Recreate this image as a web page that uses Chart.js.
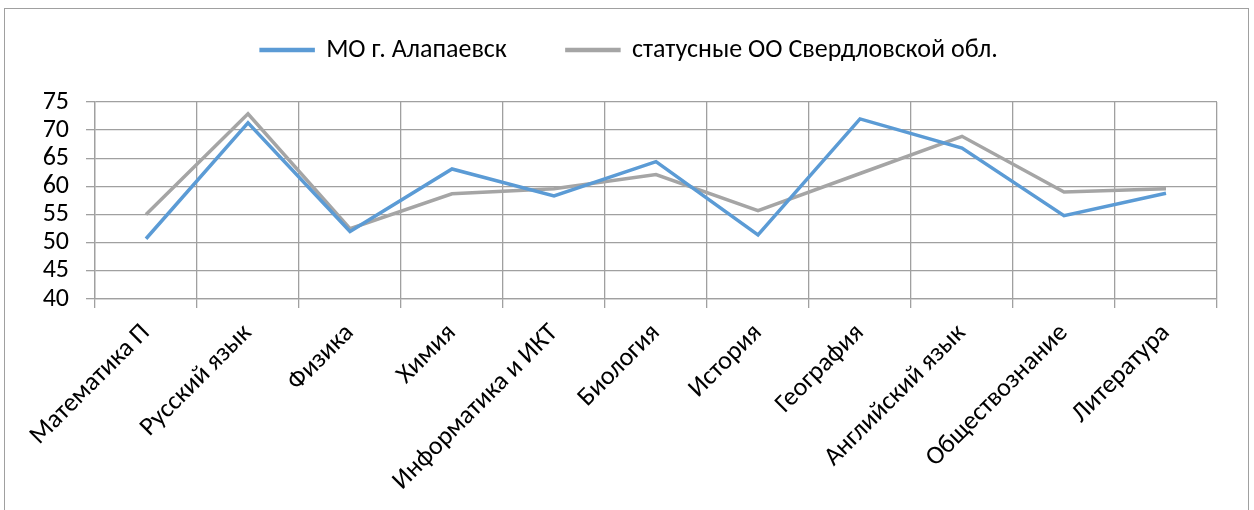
<!DOCTYPE html>
<html>
<head>
<meta charset="utf-8">
<script src="https://cdn.jsdelivr.net/npm/chart.js@4/dist/chart.umd.min.js"></script>
<style>
  body { margin: 0; background: #fff; }
  #box {
    position: absolute; left: 4px; top: 8px;
    width: 1243px; height: 510px;
    border: 1px solid #a0a0a0; border-bottom: none;
  }
</style>
</head>
<body>
<div id="box"><canvas id="myChart"></canvas></div>
<script>
var subjects = ['Математика П', 'Русский язык', 'Физика', 'Химия', 'Информатика и ИКТ', 'Биология',
                'История', 'География', 'Английский язык', 'Обществознание', 'Литература'];
var alapaevsk = [50.7, 71.3, 52.0, 63.1, 58.3, 64.4, 51.4, 72.0, 66.8, 54.8, 58.8];
var regionStatus = [55.0, 72.9, 52.5, 58.7, 59.6, 62.1, 55.7, 62.3, 68.9, 59.0, 59.6];
var yTicks = [40, 45, 50, 55, 60, 65, 70, 75];

var fontFamily = "Carlito, 'Open Sans', sans-serif";
var fontSize = 26;
var gridColor = '#a0a0a0';
var legendGap = 60;

// legend takes fixed height so the plot starts where it does in the picture,
// and its row is moved up so the wide gap between items doesn't push it down
var legendFix = {
    id: 'legendFix',
    afterInit: function(chart) {
        var lg = chart.legend;
        var orig = lg.fit;
        lg.fit = function() {
            orig.call(this);
            this.height = 93;
        };
    },
    afterLayout: function(chart) {
        chart.legend.top = 41 - fontSize / 2 - legendGap;
        chart.legend.left = 6;
        chart.legend.right = chart.width;
    }
};

var ctx = document.getElementById('myChart').getContext('2d');
var chart = new Chart(ctx, {
    type: 'line',
    data: {
        labels: subjects,
        datasets: [{
            label: 'МО г. Алапаевск',
            data: alapaevsk,
            borderColor: '#5b9bd5',
            backgroundColor: '#5b9bd5',
            borderWidth: 3.5,
            pointRadius: 0,
            tension: 0
        }, {
            label: 'статусные ОО Свердловской обл.',
            data: regionStatus,
            borderColor: '#a5a5a5',
            backgroundColor: '#a5a5a5',
            borderWidth: 3.5,
            pointRadius: 0,
            tension: 0
        }]
    },
    options: {
        responsive: true,
        maintainAspectRatio: false,
        animation: false,
        layout: { padding: { top: 0, left: 0, right: 31, bottom: 0 } },
        plugins: {
            legend: {
                position: 'top',
                labels: {
                    boxWidth: 52,
                    boxHeight: 1,
                    padding: legendGap,
                    color: '#000',
                    font: { family: fontFamily, size: fontSize }
                }
            },
            tooltip: { enabled: false }
        },
        scales: {
            x: {
                offset: true,
                grid: { offset: true, color: gridColor, lineWidth: 1.3, tickLength: 9, tickColor: gridColor },
                border: { color: gridColor, width: 1.3 },
                ticks: {
                    minRotation: 45, maxRotation: 45,
                    autoSkip: false,
                    color: '#000', padding: 10,
                    font: { family: fontFamily, size: fontSize }
                },
                afterFit: function(scale) { scale.height = 220; }
            },
            y: {
                min: 40, max: 75,
                afterBuildTicks: function(scale) {
                    scale.ticks = yTicks.map(function(v) { return { value: v }; });
                },
                grid: { color: gridColor, lineWidth: 1.3, tickLength: 9, tickColor: gridColor },
                border: { color: gridColor, width: 1.3 },
                ticks: {
                    autoSkip: false,
                    color: '#000', padding: 17,
                    font: { family: fontFamily, size: fontSize }
                },
                afterFit: function(scale) { scale.width = 90; }
            }
        }
    },
    plugins: [legendFix]
});
</script>
</body>
</html>
